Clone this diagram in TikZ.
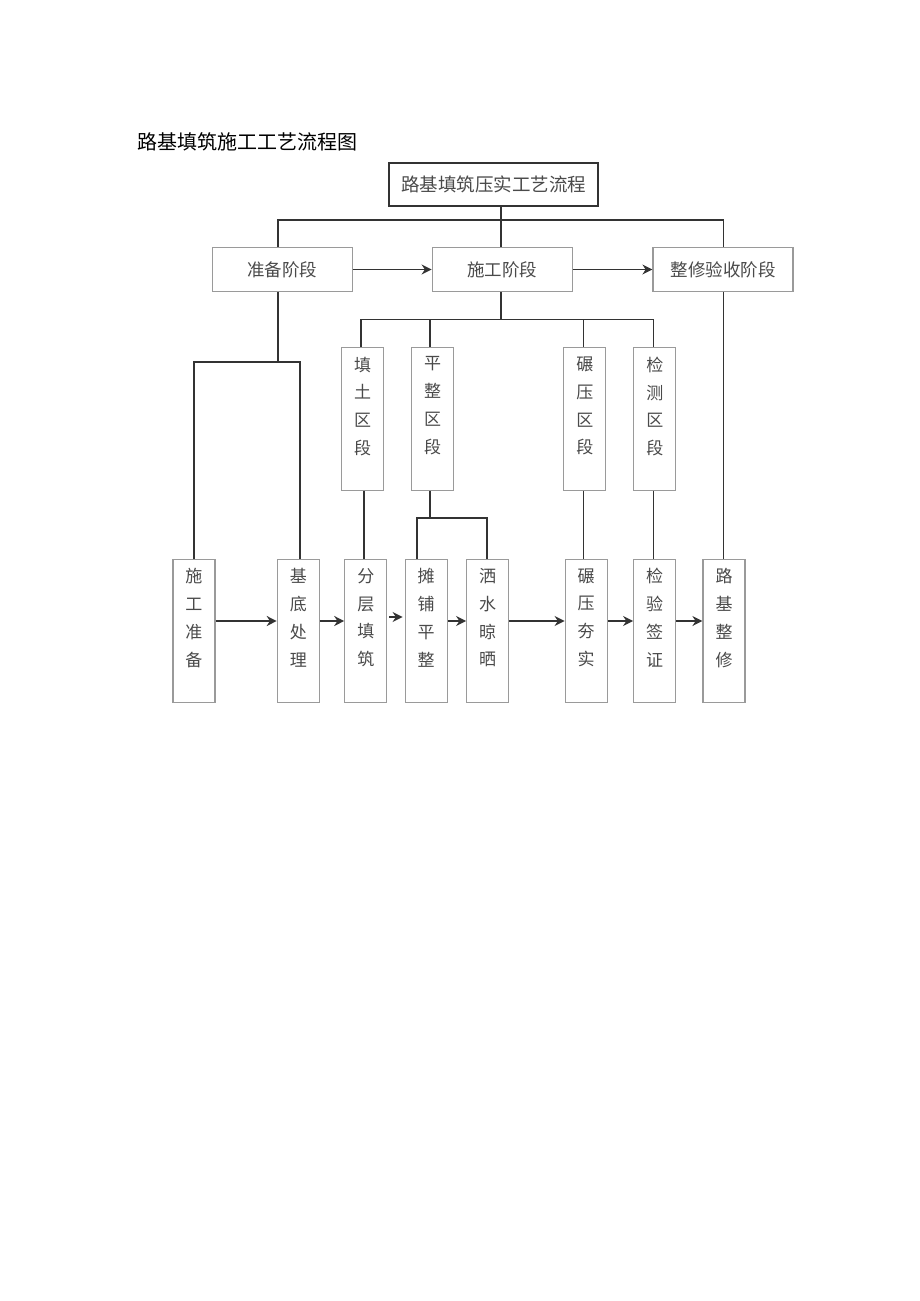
\documentclass[tikz,border=0pt]{standalone}
\usepackage{fontspec}
\newfontfamily\cjk{Noto Sans CJK SC}
\usetikzlibrary{arrows.meta}
\definecolor{ln}{HTML}{333333}
\definecolor{bx}{HTML}{9A9A9A}
\definecolor{tx}{HTML}{4A4A4A}
\begin{document}
\begin{tikzpicture}[x=1pt,y=-1pt,
  stagebox/.style={draw=bx, line width=1.2pt, minimum width=140pt, minimum height=44pt, inner sep=0pt, font=\cjk\fontsize{17.5}{20}\selectfont, text=tx},
  colbox/.style={draw=bx, line width=1.2pt, minimum width=42pt, minimum height=143pt, inner sep=0pt},
  coltext/.style={anchor=north, align=center, inner sep=0pt, font=\cjk\fontsize{17}{27.8}\selectfont, text=tx},
  conn/.style={draw=ln, line width=1.6pt},
  arr/.style={conn, -{Stealth[length=10pt,width=10pt]}},
]
\useasboundingbox[fill=white] (0,0) rectangle (920,1301);

% title
\node[anchor=west, inner sep=0pt, font=\cjk\fontsize{20}{24}\selectfont] (title) at (137,142) {路基填筑施工工艺流程图};

% top box
\node[draw=ln, line width=2pt, minimum width=209pt, minimum height=43pt, inner sep=0pt, font=\cjk\fontsize{18.5}{22}\selectfont, text=tx] (top) at (493.7,184.7) {路基填筑压实工艺流程};

% stages
\node[stagebox] (s1) at (282.2,269.5) {准备阶段};
\node[stagebox] (s2) at (502.2,269.5) {施工阶段};
\node[stagebox] (s3) at (723,269.5) {整修验收阶段};

% section boxes
\node[colbox] (q1) at (362.5,418.7) {};
\node[colbox] (q2) at (432.5,418.7) {};
\node[colbox] (q3) at (584.8,418.7) {};
\node[colbox] (q4) at (654.8,418.7) {};
\node[coltext] (qt1) at ([yshift=-10pt]q1.north) {填\\土\\区\\段};
\node[coltext] (qt2) at ([yshift=-10pt]q2.north) {平\\整\\区\\段};
\node[coltext] (qt3) at ([yshift=-10pt]q3.north) {碾\\压\\区\\段};
\node[coltext] (qt4) at ([yshift=-10pt]q4.north) {检\\测\\区\\段};

% bottom boxes
\node[colbox] (b1) at (193.9,631.3) {};
\node[colbox] (b2) at (298.3,631.3) {};
\node[colbox] (b3) at (365.8,631.3) {};
\node[colbox] (b4) at (426.2,631.3) {};
\node[colbox] (b5) at (487.7,631.3) {};
\node[colbox] (b6) at (586.2,631.3) {};
\node[colbox] (b7) at (654.7,631.3) {};
\node[colbox] (b8) at (724,631.3) {};
\node[coltext] (bt1) at ([yshift=-9pt]b1.north) {施\\工\\准\\备};
\node[coltext] (bt2) at ([yshift=-9pt]b2.north) {基\\底\\处\\理};
\node[coltext] (bt3) at ([yshift=-9pt]b3.north) {分\\层\\填\\筑};
\node[coltext] (bt4) at ([yshift=-9pt]b4.north) {摊\\铺\\平\\整};
\node[coltext] (bt5) at ([yshift=-9pt]b5.north) {洒\\水\\晾\\晒};
\node[coltext] (bt6) at ([yshift=-9pt]b6.north) {碾\\压\\夯\\实};
\node[coltext] (bt7) at ([yshift=-9pt]b7.north) {检\\验\\签\\证};
\node[coltext] (bt8) at ([yshift=-9pt]b8.north) {路\\基\\整\\修};

% junction coordinates
\coordinate (jTop) at (500.7,220);
\coordinate (jL) at (277.7,220);
\coordinate (jR) at (723.3,220);
\coordinate (jP) at (277.7,362);
\coordinate (jP1) at (194,362);
\coordinate (jP2) at (300,362);
\coordinate (jS) at (500.7,319.3);
\coordinate (jS1) at (361,319.3);
\coordinate (jS2) at (430,319.3);
\coordinate (jS3) at (583.3,319.3);
\coordinate (jS4) at (653.3,319.3);
\coordinate (jF) at (430,518);
\coordinate (jF1) at (417,518);
\coordinate (jF2) at (486.7,518);
\coordinate (x3) at (364,0);
\coordinate (rowA) at (0,621);
\coordinate (rowB) at (0,617);

% top tree
\draw[conn] (top.south -| jTop) -- (s2.north -| jTop);
\draw[conn] (s1.north -| jL) -- (jL) -- (jR) -- (s3.north -| jR);

% preparation branch
\draw[conn] (s1.south -| jP) -- (jP);
\draw[conn] (b1.north -| jP1) -- (jP1) -- (jP2) -- (b2.north -| jP2);

% construction branch
\draw[conn] (s2.south -| jS) -- (jS);
\draw[conn] (q1.north -| jS1) -- (jS1) -- (jS4) -- (q4.north -| jS4);
\draw[conn] (jS2) -- (q2.north -| jS2);
\draw[conn] (jS3) -- (q3.north -| jS3);

% section to bottom
\draw[conn] (q1.south -| x3) -- (b3.north -| x3);
\draw[conn] (q2.south -| jF) -- (jF);
\draw[conn] (b4.north -| jF1) -- (jF1) -- (jF2) -- (b5.north -| jF2);
\draw[conn] (q3.south -| jS3) -- (b6.north -| jS3);
\draw[conn] (q4.south -| jS4) -- (b7.north -| jS4);

% finishing branch
\draw[conn] (s3.south -| jR) -- (b8.north -| jR);

% stage arrows
\draw[arr] (s1.east) -- (s2.west);
\draw[arr] (s2.east) -- (s3.west);

% bottom arrows
\draw[arr] (b1.east |- rowA) -- (b2.west |- rowA);
\draw[arr] (b2.east |- rowA) -- (b3.west |- rowA);
\draw[arr] ([xshift=2pt]b3.east |- rowB) -- ([xshift=-2pt]b4.west |- rowB);
\draw[arr] (b4.east |- rowA) -- (b5.west |- rowA);
\draw[arr] (b5.east |- rowA) -- (b6.west |- rowA);
\draw[arr] (b6.east |- rowA) -- (b7.west |- rowA);
\draw[arr] (b7.east |- rowA) -- (b8.west |- rowA);
\end{tikzpicture}
\end{document}
